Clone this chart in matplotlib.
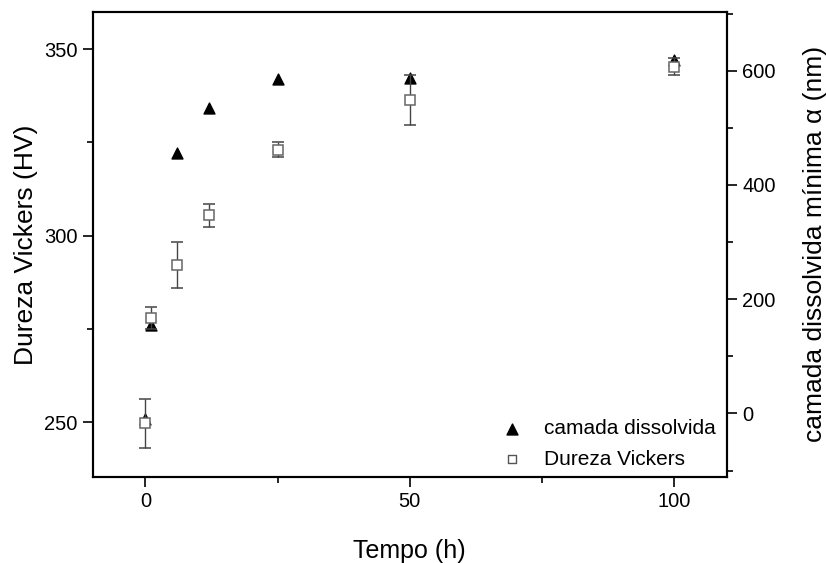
import numpy as np
import matplotlib.pyplot as plt
from matplotlib.ticker import MultipleLocator

plt.rcParams['font.family'] = ['Liberation Sans', 'DejaVu Sans']

# tempo (h)
tempo = [0, 1, 6, 12, 25, 50, 100]
# dureza Vickers (HV) e desvio
dureza = [249.7, 277.9, 292.1, 305.5, 323.0, 336.4, 345.3]
dureza_err = [6.6, 2.9, 6.1, 3.1, 2.0, 6.8, 2.2]
# camada dissolvida minima (nm)
camada = [-10, 155, 456, 534, 585, 588, 619]

fig, ax = plt.subplots(figsize=(8.26, 5.63), dpi=100)
fig.subplots_adjust(left=0.112, right=0.88, top=0.979, bottom=0.153)

ax2 = ax.twinx()
ax.set_zorder(ax2.get_zorder() + 1)
ax.patch.set_visible(False)

# camada dissolvida no eixo da direita
tri = ax2.scatter(tempo, camada, marker='^', s=62, color='black', zorder=3,
                  label='camada dissolvida')

ax.errorbar(tempo, dureza, yerr=dureza_err, fmt='s', ms=7, mfc='white',
            mec='#666666', mew=1.1, ecolor='#444444', elinewidth=1,
            capsize=4, capthick=1, zorder=4)
sq = ax.scatter([], [], marker='s', s=30, facecolor='white',
                edgecolor='#555555', label='Dureza Vickers')

ax.set_xlim(-10, 110)
ax.set_ylim(235.4, 360)
ax2.set_ylim(-111, 703)

ax.xaxis.set_major_locator(MultipleLocator(50))
ax.xaxis.set_minor_locator(MultipleLocator(25))
ax.yaxis.set_major_locator(MultipleLocator(50))
ax.yaxis.set_minor_locator(MultipleLocator(25))
ax2.yaxis.set_major_locator(MultipleLocator(200))
ax2.yaxis.set_minor_locator(MultipleLocator(100))

for a in (ax, ax2):
    a.tick_params(which='major', direction='out', length=7, width=1.2,
                  labelsize=14.5, pad=4)
    a.tick_params(which='minor', direction='out', length=4, width=1.2)
    for s in a.spines.values():
        s.set_linewidth(1.5)

ax.set_xlabel('Tempo (h)', fontsize=18, labelpad=20)
ax.set_ylabel('Dureza Vickers (HV)', fontsize=19, labelpad=4)
ax2.set_ylabel('camada dissolvida mínima α (nm)', fontsize=19, labelpad=20)

ax.legend(handles=[tri, sq], loc='lower right', frameon=False, fontsize=15,
          handletextpad=0.5, labelspacing=0.55, borderaxespad=0.0,
          bbox_to_anchor=(0.995, 0.0))

fig.savefig('out.png', dpi=100)
